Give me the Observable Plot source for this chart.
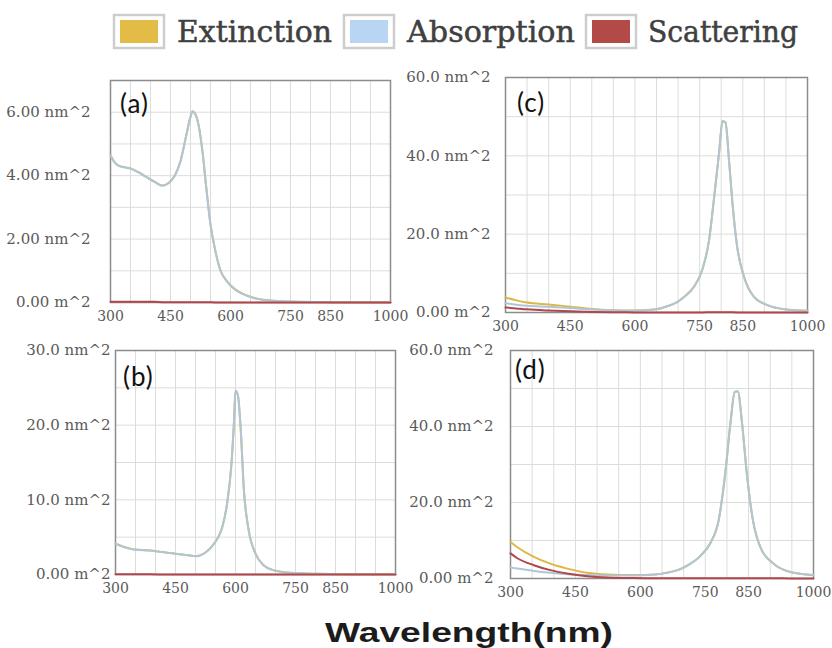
<!DOCTYPE html>
<html><head><meta charset="utf-8">
<script src="https://cdn.jsdelivr.net/npm/d3@7"></script>
<script src="https://cdn.jsdelivr.net/npm/@observablehq/plot@0.6"></script>
<style>
body{margin:0;background:#fff;}
#root{position:relative;width:832px;height:648px;overflow:hidden;background:#fff;}
.panel{position:absolute;}
.panel svg{overflow:visible;}
.plabel{position:absolute;font-family:Lato,'Open Sans',sans-serif;font-size:26px;color:#111;line-height:1;letter-spacing:1px;}
#overlay{position:absolute;left:0;top:0;}
</style></head><body><div id="root"></div>
<script>
// ---------- data ----------
const seriesNames = ["Extinction", "Absorption", "Scattering"];
const seriesColors = ["#ddb845", "#aec6da", "#b0474a"];
const legendColors = ["#e2bc47", "#b8d6f4", "#b44a48"];
const xTicks = [300, 450, 600, 750, 850, 1000];

// panel (a)
const wlA  = [300,310,320,330,350,370,390,410,430,445,460,475,490,500,505,510,520,530,540,550,560,575,590,610,630,660,700,750,850,1000];
const extA = [4.64,4.43,4.32,4.28,4.23,4.11,3.96,3.81,3.69,3.77,3.99,4.46,5.31,5.86,6.03,5.99,5.61,4.76,3.56,2.46,1.76,1.01,0.69,0.43,0.28,0.14,0.06,0.03,0.01,0.0];
const absA = [4.63,4.42,4.31,4.27,4.22,4.10,3.95,3.80,3.68,3.76,3.98,4.45,5.30,5.85,6.02,5.98,5.60,4.75,3.55,2.45,1.75,1.00,0.68,0.42,0.27,0.13,0.06,0.03,0.01,0.0];
const scaA = [0.02,0.02,0.02,0.02,0.02,0.02,0.02,0.02,0.01,0.01,0.01,0.01,0.01,0.01,0.01,0.01,0.01,0.01,0.01,0.01,0.0,0.0,0.0,0.0,0.0,0.0,0.0,0.0,0.0,0.0];
const yTicksA = [0, 2, 4, 6];
const yLabelsA = ["0.00 m^2", "2.00 nm^2", "4.00 nm^2", "6.00 nm^2"];

// panel (b)
const wlB  = [300,320,346,387,429,471,504,521,535,546,557,567,579,590,596,600,606,613,621,633,650,671,696,737,804,900,1000];
const extB = [4.12,3.72,3.36,3.21,2.91,2.66,2.47,2.81,3.41,4.11,5.01,6.36,9.51,14.9,20.2,24.6,24.0,19.5,11.3,5.91,2.81,1.21,0.56,0.22,0.1,0.04,0.02];
const absB = [4.10,3.70,3.35,3.20,2.90,2.65,2.46,2.80,3.40,4.10,5.00,6.35,9.50,14.9,20.2,24.6,24.0,19.5,11.3,5.90,2.80,1.20,0.55,0.22,0.1,0.04,0.02];
const scaB = [0.02,0.02,0.02,0.02,0.01,0.01,0.01,0.01,0.01,0.01,0.01,0.01,0.01,0.01,0.01,0.01,0.01,0.01,0.01,0.01,0.0,0.0,0.0,0.0,0.0,0.0,0.0];
const yTicksB = [0, 10, 20, 30];
const yLabelsB = ["0.00 m^2", "10.0 nm^2", "20.0 nm^2", "30.0 nm^2"];

// panel (c)
const wlC  = [300,325,350,400,450,500,550,600,650,675,700,714,737,756,772,783,795,803,810,818,826,837,853,876,907,946,1000];
const extC = [3.85,3.1,2.55,2.05,1.5,0.9,0.6,0.5,0.85,1.6,2.8,4.0,6.6,10.9,18.6,28.8,40.8,48.9,48.5,39.0,28.0,16.8,9.1,4.0,1.9,0.85,0.45];
const absC = [2.4,1.95,1.7,1.45,1.15,0.75,0.53,0.47,0.83,1.58,2.78,3.98,6.57,10.85,18.55,28.75,40.75,48.85,48.45,38.95,27.95,16.77,9.08,3.98,1.89,0.84,0.44];
const scaC = [1.3,1.05,0.8,0.5,0.3,0.15,0.07,0.03,0.02,0.02,0.02,0.02,0.02,0.03,0.04,0.05,0.05,0.05,0.05,0.05,0.04,0.03,0.02,0.01,0.01,0.0,0.0];
const yTicksC = [0, 20, 40, 60];
const yLabelsC = ["0.00 m^2", "20.0 nm^2", "40.0 nm^2", "60.0 nm^2"];

// panel (d)
const wlD  = [300,315,354,392,431,477,523,585,631,662,690,708,738,762,781,796,808,818,825,835,846,860,877,908,946,1000];
const extD = [9.6,8.3,5.7,3.9,2.6,1.5,1.05,0.9,1.05,1.55,2.4,3.4,5.9,9.4,15.4,27.6,40.8,49.1,49.3,40.8,27.6,15.4,8.3,3.9,1.75,0.9];
const absD = [2.9,2.65,2.0,1.5,1.1,0.9,0.8,0.8,1.0,1.5,2.35,3.35,5.85,9.35,15.35,27.55,40.75,49.05,49.25,40.75,27.55,15.35,8.25,3.85,1.7,0.88];
const scaD = [6.6,5.4,3.5,2.2,1.3,0.6,0.25,0.1,0.05,0.05,0.05,0.05,0.05,0.05,0.05,0.05,0.05,0.05,0.05,0.05,0.05,0.05,0.05,0.05,0.03,0.02];
const yTicksD = [0, 20, 40, 60];
const yLabelsD = ["0.00 m^2", "20.0 nm^2", "40.0 nm^2", "60.0 nm^2"];

// ---------- build ----------
const root = document.getElementById("root");
const rows = (wl, v) => wl.map((w, i) => ({wl: w, v: v[i]}));

const panels = [
  {id:"(a)", left:0,   top:60,  w:400, h:275, ml:110, mr:10, mt:20, mb:33, ymax:7,  gstep:1,  pad:20, wl:wlA, ext:extA, abs:absA, sca:scaA, yt:yTicksA, yl:yLabelsA, lx:10, ly:10},
  {id:"(b)", left:0,   top:335, w:400, h:270, ml:115, mr:5,  mt:15, mb:31, ymax:30, gstep:5,  pad:5,  wl:wlB, ext:extB, abs:absB, sca:scaB, yt:yTicksB, yl:yLabelsB, lx:8,  ly:13},
  {id:"(c)", left:410, top:60,  w:422, h:275, ml:95,  mr:25, mt:17, mb:23, ymax:60, gstep:10, pad:15, wl:wlC, ext:extC, abs:absC, sca:scaC, yt:yTicksC, yl:yLabelsC, lx:12, ly:12},
  {id:"(d)", left:410, top:335, w:422, h:270, ml:100, mr:19, mt:15, mb:27, ymax:60, gstep:10, pad:17, wl:wlD, ext:extD, abs:absD, sca:scaD, yt:yTicksD, yl:yLabelsD, lx:5,  ly:6}
];

for (const p of panels) {
  const chart = Plot.plot({
    width: p.w, height: p.h,
    marginLeft: p.ml, marginRight: p.mr, marginTop: p.mt, marginBottom: p.mb,
    x: {domain: [300, 1000]},
    y: {domain: [0, p.ymax]},
    style: {fontFamily: "'DejaVu Serif', serif", fontSize: "14px", color: "#5a5a5a", background: "transparent", overflow: "visible"},
    marks: [
      Plot.gridX({ticks: d3.range(350, 1000, 50), stroke: "#dcdcdc", strokeOpacity: 1}),
      Plot.gridY({ticks: d3.range(p.gstep, p.ymax, p.gstep), stroke: "#dcdcdc", strokeOpacity: 1}),
      Plot.frame({stroke: "#8c8c8c", strokeWidth: 1.5}),
      Plot.axisX({ticks: xTicks, tickSize: 0, tickPadding: 9, fontSize: 14, label: null, tickFormat: d => String(d)}),
      Plot.axisY({ticks: p.yt, tickSize: 0, tickPadding: p.pad, fontSize: 15, label: null, tickFormat: d => p.yl[p.yt.indexOf(d)]}),
      Plot.line(rows(p.wl, p.ext), {x: "wl", y: "v", stroke: seriesColors[0], strokeWidth: 2, curve: "monotone-x"}),
      Plot.line(rows(p.wl, p.abs), {x: "wl", y: "v", stroke: seriesColors[1], strokeWidth: 2, curve: "monotone-x"}),
      Plot.line(rows(p.wl, p.sca), {x: "wl", y: "v", stroke: seriesColors[2], strokeWidth: 2, curve: "monotone-x"})
    ]
  });
  const div = document.createElement("div");
  div.className = "panel";
  div.style.left = p.left + "px";
  div.style.top = p.top + "px";
  div.appendChild(chart);
  root.appendChild(div);
  const lab = document.createElement("div");
  lab.className = "plabel";
  lab.textContent = p.id;
  lab.style.left = (p.left + p.ml + p.lx) + "px";
  lab.style.top = (p.top + p.mt + p.ly) + "px";
  root.appendChild(lab);
}

// overlay: legend + x title
const svg = d3.select(root).append("svg").attr("id", "overlay").attr("width", 832).attr("height", 648);
const legX = [113, 343, 585];
const legTextX = [177, 407, 648];
const legTextW = [155, 168, 150];
seriesNames.forEach((name, i) => {
  svg.append("rect").attr("x", legX[i] + 1).attr("y", 15).attr("width", 50).attr("height", 33)
    .attr("fill", "#fff").attr("stroke", "#cdcdcd").attr("stroke-width", 2.5);
  svg.append("rect").attr("x", legX[i] + 7).attr("y", 20).attr("width", 38).attr("height", 23)
    .attr("fill", legendColors[i]);
  svg.append("text").attr("x", legTextX[i]).attr("y", 42)
    .attr("textLength", legTextW[i]).attr("lengthAdjust", "spacingAndGlyphs")
    .style("font-family", "'DejaVu Serif', serif").style("font-size", "29px").style("fill", "#404040")
    .style("stroke", "#404040").style("stroke-width", "0.5px")
    .text(name);
});
svg.append("text").attr("x", 325).attr("y", 642)
  .attr("textLength", 288).attr("lengthAdjust", "spacingAndGlyphs")
  .style("font-family", "'Liberation Sans', Arial, sans-serif").style("font-weight", "bold")
  .style("font-size", "28px").style("fill", "#1c1c1c")
  .text("Wavelength(nm)");
</script>
</body></html>
